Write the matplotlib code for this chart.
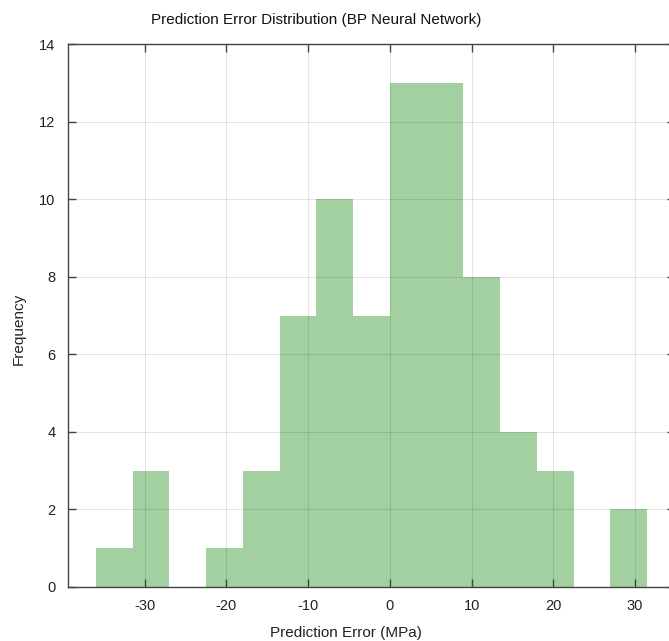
import matplotlib.pyplot as plt
import numpy as np

# Histogram bins of the prediction error (MPa) and their counts
bin_edges = [-36.0, -31.5, -27.0, -22.5, -18.0, -13.5, -9.0, -4.5,
             0.0, 4.5, 9.0, 13.5, 18.0, 22.5, 27.0, 31.5]
counts = [1, 3, 0, 1, 3, 7, 10, 7, 13, 13, 8, 4, 3, 0, 2]
x_ticks = [-30, -20, -10, 0, 10, 20, 30]
y_ticks = [0, 2, 4, 6, 8, 10, 12, 14]


def graph():
    plt.rcParams['font.family'] = ['Liberation Sans', 'DejaVu Sans']
    # plain hyphen for negative tick labels
    plt.rcParams['axes.unicode_minus'] = False
    W, H = 669, 641
    fig = plt.figure(figsize=(W / 100, H / 100), dpi=100)

    # axes box in pixels: left 68, top 44, bottom 587, right runs past the edge
    ax = fig.add_axes([68 / W, (H - 587) / H, (675 - 68) / W, (587 - 44) / H])

    edges = np.array(bin_edges)
    ax.bar(edges[:-1], counts, width=np.diff(edges), align='edge',
           color='#a3d0a0', edgecolor='none', zorder=1)

    ax.set_xlim(-39.4, 34.9)
    ax.set_ylim(0, 14)
    ax.set_xticks(x_ticks)
    ax.set_yticks(y_ticks)

    # light grid laid over the bars
    ax.grid(True, color='black', alpha=0.1, linewidth=0.8, zorder=3)
    ax.set_axisbelow(False)

    for s in ax.spines.values():
        s.set_color('#444444')
        s.set_linewidth(1.0)
        s.set_zorder(4)

    ax.tick_params(direction='in', length=6, width=1, color='#444444',
                   labelsize=10.5, labelcolor='#222222',
                   top=True, right=True)
    ax.tick_params(axis='x', pad=9)
    ax.tick_params(axis='y', pad=9)

    # Labels placed by pixel position
    fig.text(316 / W, 1 - 20 / H, 'Prediction Error Distribution (BP Neural Network)',
             ha='center', va='center', fontsize=11, color='#111111')
    fig.text(346 / W, 1 - 633 / H, 'Prediction Error (MPa)',
             ha='center', va='center', fontsize=11, color='#222222')
    fig.text(19 / W, 1 - 329 / H, 'Frequency', rotation=90,
             ha='center', va='center', fontsize=11, color='#222222')

    fig.savefig('out.png', dpi=100)


if __name__ == "__main__":
    graph()
